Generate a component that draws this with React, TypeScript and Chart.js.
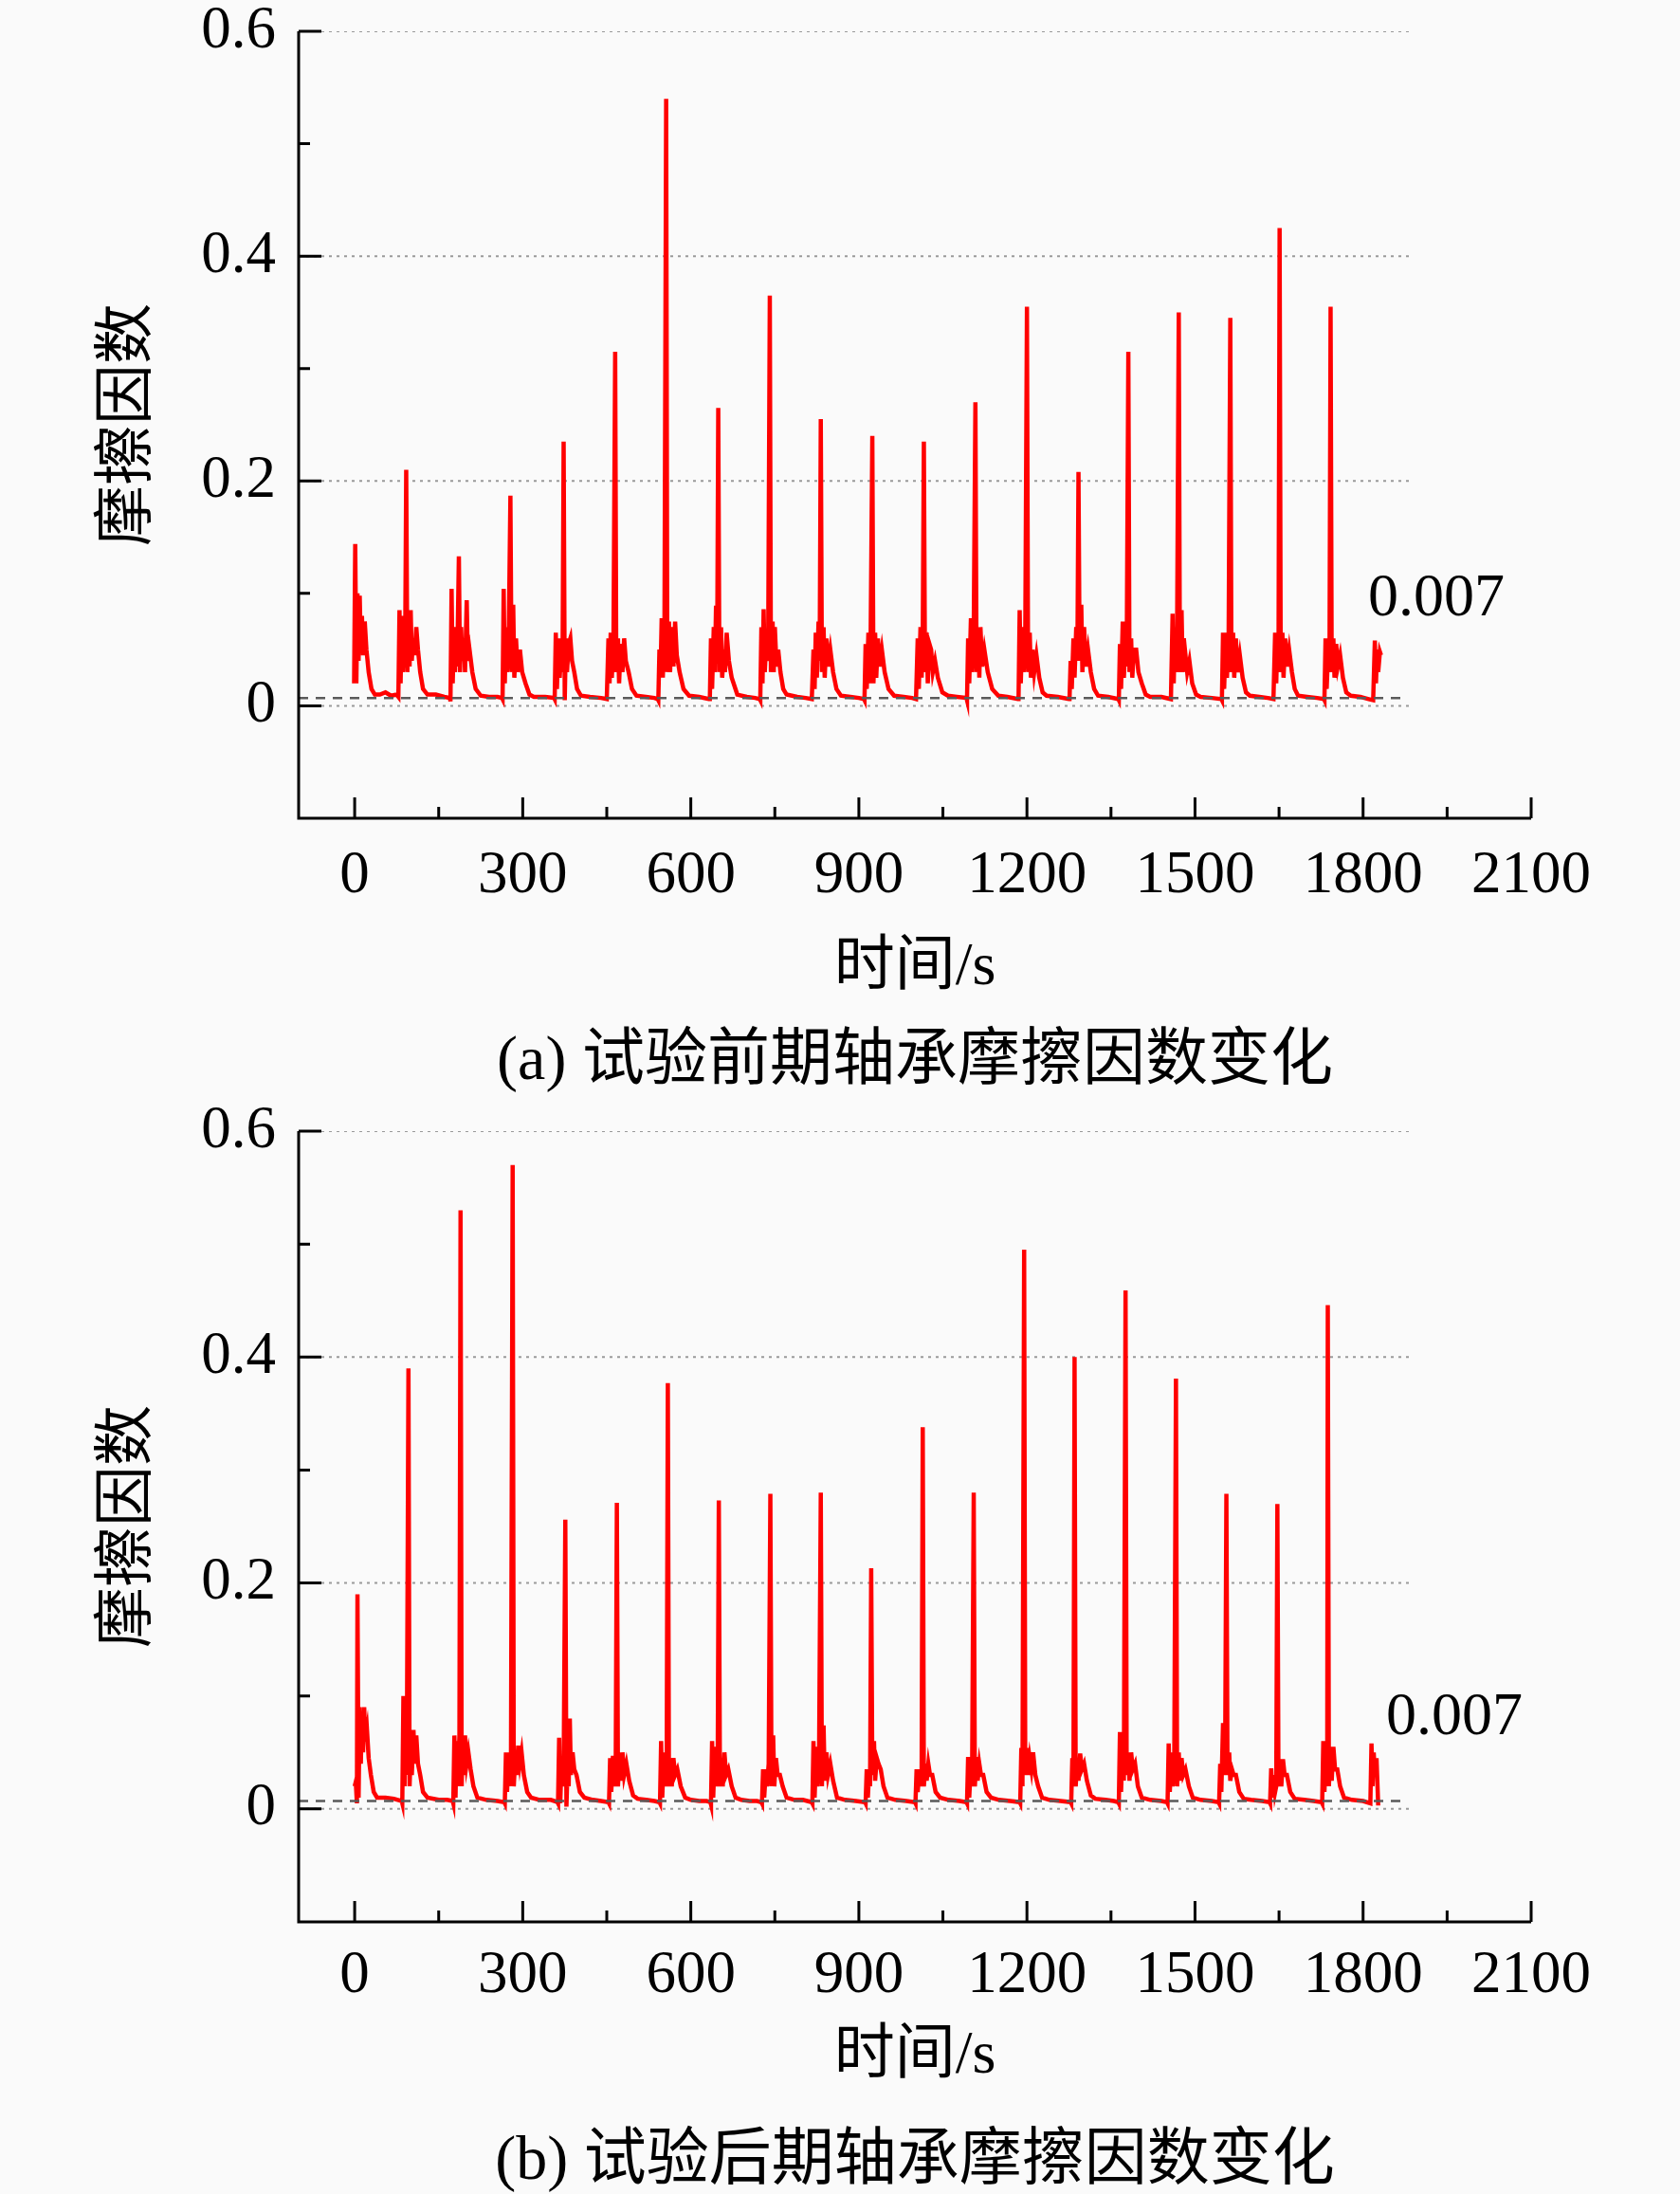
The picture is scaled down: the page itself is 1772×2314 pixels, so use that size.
import React, { useEffect, useRef } from 'react';
import { Chart, registerables } from 'chart.js';

Chart.register(...registerables);

// time [s], friction coefficient — one row per run-in burst
const earlyBursts: [number, number][][] = [
  [[-1, 0.02], [1, 0.144], [3, 0.02], [5, 0.1], [7, 0.04], [9, 0.098], [11, 0.05], [13, 0.08], [15, 0.045], [18, 0.075], [21, 0.05], [25, 0.03], [30, 0.015], [36, 0.01], [45, 0.01], [55, 0.012], [65, 0.009], [75, 0.01]],
  [[78, 0.008], [80, 0.085], [82, 0.02], [84, 0.08], [86, 0.03], [88, 0.06], [90, 0.04], [92, 0.21], [94, 0.03], [96, 0.075], [98, 0.035], [100, 0.085], [102, 0.04], [104, 0.06], [107, 0.045], [110, 0.07], [113, 0.05], [117, 0.03], [122, 0.015], [130, 0.01], [145, 0.01], [160, 0.008], [170, 0.007]],
  [[171, 0.004], [173, 0.104], [175, 0.02], [177, 0.06], [179, 0.03], [181, 0.07], [183, 0.035], [186, 0.133], [188, 0.03], [190, 0.07], [192, 0.04], [195, 0.06], [197, 0.03], [200, 0.094], [202, 0.04], [205, 0.05], [210, 0.03], [216, 0.015], [225, 0.009], [240, 0.008], [255, 0.008], [263, 0.007]],
  [[264, 0.006], [266, 0.104], [268, 0.02], [270, 0.07], [272, 0.03], [275, 0.06], [278, 0.187], [280, 0.03], [283, 0.09], [285, 0.025], [288, 0.06], [291, 0.03], [295, 0.05], [299, 0.03], [305, 0.02], [312, 0.01], [320, 0.008], [340, 0.008], [356, 0.007]],
  [[357, 0.006], [359, 0.065], [361, 0.015], [364, 0.06], [366, 0.025], [369, 0.055], [371, 0.03], [373, 0.235], [375, 0.005], [377, 0.06], [379, 0.03], [382, 0.055], [385, 0.06], [388, 0.04], [392, 0.03], [397, 0.015], [404, 0.009], [420, 0.008], [440, 0.007], [450, 0.006]],
  [[451, 0.006], [453, 0.06], [455, 0.02], [457, 0.065], [459, 0.025], [462, 0.06], [465, 0.315], [467, 0.03], [470, 0.06], [472, 0.02], [475, 0.055], [478, 0.03], [481, 0.06], [484, 0.04], [489, 0.03], [495, 0.015], [503, 0.009], [520, 0.008], [535, 0.007], [541, 0.006]],
  [[542, 0.005], [544, 0.05], [546, 0.03], [548, 0.078], [550, 0.025], [553, 0.07], [556, 0.54], [558, 0.03], [561, 0.075], [563, 0.03], [566, 0.07], [569, 0.035], [572, 0.075], [575, 0.045], [580, 0.03], [587, 0.015], [597, 0.009], [615, 0.008], [632, 0.006]],
  [[634, 0.006], [636, 0.06], [638, 0.015], [641, 0.07], [643, 0.03], [645, 0.089], [647, 0.04], [649, 0.265], [651, 0.03], [654, 0.07], [656, 0.025], [659, 0.05], [661, 0.03], [664, 0.065], [668, 0.04], [673, 0.025], [683, 0.01], [700, 0.008], [715, 0.007], [723, 0.006]],
  [[724, 0.005], [726, 0.07], [728, 0.02], [730, 0.086], [732, 0.03], [735, 0.06], [738, 0.04], [741, 0.365], [743, 0.03], [746, 0.075], [748, 0.03], [750, 0.07], [753, 0.035], [756, 0.05], [760, 0.03], [765, 0.015], [771, 0.01], [790, 0.008], [805, 0.007], [816, 0.006]],
  [[817, 0.006], [819, 0.05], [821, 0.015], [823, 0.065], [825, 0.025], [828, 0.075], [830, 0.04], [832, 0.255], [834, 0.03], [837, 0.07], [839, 0.025], [842, 0.06], [845, 0.035], [849, 0.05], [854, 0.03], [860, 0.015], [868, 0.009], [885, 0.008], [900, 0.007], [909, 0.006]],
  [[910, 0.005], [912, 0.055], [914, 0.015], [917, 0.065], [919, 0.02], [921, 0.06], [924, 0.24], [926, 0.02], [929, 0.065], [931, 0.025], [934, 0.06], [937, 0.035], [941, 0.05], [946, 0.03], [953, 0.015], [963, 0.009], [980, 0.008], [995, 0.007], [1002, 0.006]],
  [[1003, 0.006], [1005, 0.06], [1007, 0.015], [1010, 0.07], [1012, 0.025], [1014, 0.06], [1016, 0.235], [1018, 0.03], [1021, 0.065], [1023, 0.02], [1026, 0.055], [1029, 0.05], [1032, 0.03], [1036, 0.04], [1041, 0.025], [1049, 0.012], [1059, 0.009], [1075, 0.008], [1092, 0.007]],
  [[1093, 0.005], [1095, 0.06], [1097, 0.02], [1100, 0.078], [1102, 0.03], [1105, 0.065], [1108, 0.27], [1110, 0.03], [1113, 0.07], [1115, 0.025], [1117, 0.07], [1120, 0.035], [1124, 0.05], [1130, 0.03], [1138, 0.015], [1149, 0.009], [1165, 0.008], [1184, 0.006]],
  [[1185, 0.006], [1187, 0.085], [1189, 0.02], [1192, 0.07], [1194, 0.03], [1197, 0.06], [1200, 0.355], [1202, 0.03], [1205, 0.065], [1207, 0.025], [1210, 0.05], [1213, 0.03], [1217, 0.045], [1222, 0.025], [1228, 0.012], [1235, 0.009], [1255, 0.008], [1275, 0.006]],
  [[1276, 0.006], [1278, 0.04], [1280, 0.015], [1283, 0.06], [1285, 0.025], [1288, 0.07], [1290, 0.04], [1292, 0.208], [1294, 0.04], [1297, 0.09], [1299, 0.03], [1302, 0.07], [1305, 0.035], [1309, 0.05], [1314, 0.03], [1320, 0.015], [1327, 0.009], [1345, 0.008], [1363, 0.006]],
  [[1364, 0.005], [1366, 0.055], [1368, 0.015], [1371, 0.075], [1373, 0.025], [1376, 0.06], [1378, 0.035], [1381, 0.315], [1383, 0.03], [1386, 0.06], [1388, 0.025], [1391, 0.05], [1395, 0.05], [1399, 0.03], [1405, 0.02], [1412, 0.01], [1420, 0.008], [1440, 0.008], [1457, 0.006]],
  [[1458, 0.006], [1460, 0.082], [1462, 0.02], [1464, 0.07], [1466, 0.03], [1468, 0.06], [1471, 0.35], [1473, 0.03], [1476, 0.085], [1478, 0.03], [1480, 0.06], [1482, 0.05], [1486, 0.03], [1490, 0.04], [1495, 0.02], [1502, 0.01], [1510, 0.008], [1530, 0.007], [1547, 0.006]],
  [[1548, 0.005], [1550, 0.065], [1552, 0.015], [1555, 0.065], [1557, 0.025], [1560, 0.06], [1563, 0.345], [1565, 0.03], [1568, 0.065], [1570, 0.025], [1573, 0.06], [1576, 0.03], [1580, 0.045], [1585, 0.025], [1591, 0.012], [1598, 0.009], [1615, 0.008], [1630, 0.007], [1640, 0.006]],
  [[1641, 0.006], [1643, 0.065], [1645, 0.02], [1647, 0.06], [1649, 0.03], [1651, 0.425], [1653, 0.03], [1656, 0.065], [1658, 0.025], [1661, 0.06], [1664, 0.035], [1668, 0.05], [1673, 0.03], [1678, 0.015], [1684, 0.009], [1700, 0.008], [1718, 0.007], [1730, 0.006]],
  [[1731, 0.005], [1733, 0.06], [1735, 0.015], [1738, 0.055], [1740, 0.03], [1742, 0.355], [1744, 0.03], [1747, 0.06], [1749, 0.025], [1752, 0.055], [1755, 0.035], [1759, 0.045], [1764, 0.025], [1770, 0.012], [1778, 0.009], [1795, 0.008], [1810, 0.006], [1818, 0.005]],
  [[1821, 0.058], [1823, 0.02], [1825, 0.05], [1827, 0.03], [1830, 0.048], [1832, 0.045]],
];

const lateBursts: [number, number][][] = [
  [[0, 0.02], [2, 0.024], [4, 0.005], [5, 0.19], [7, 0.01], [9, 0.09], [11, 0.04], [13, 0.085], [15, 0.05], [17, 0.09], [19, 0.06], [22, 0.07], [25, 0.045], [29, 0.03], [34, 0.015], [40, 0.01], [55, 0.01], [70, 0.009], [84, 0.007]],
  [[85, 0.005], [87, 0.1], [89, 0.02], [91, 0.09], [93, 0.03], [96, 0.39], [98, 0.02], [100, 0.05], [102, 0.03], [105, 0.07], [107, 0.04], [110, 0.065], [113, 0.04], [117, 0.03], [122, 0.015], [130, 0.01], [150, 0.008], [165, 0.008], [175, 0.007]],
  [[176, 0.005], [178, 0.065], [180, 0.01], [182, 0.06], [184, 0.02], [187, 0.065], [189, 0.53], [191, 0.02], [193, 0.065], [195, 0.03], [197, 0.065], [200, 0.04], [203, 0.05], [207, 0.035], [212, 0.02], [219, 0.01], [235, 0.008], [255, 0.007], [267, 0.006]],
  [[268, 0.005], [270, 0.05], [272, 0.015], [275, 0.05], [277, 0.02], [279, 0.045], [282, 0.57], [284, 0.02], [287, 0.05], [289, 0.03], [292, 0.056], [295, 0.04], [298, 0.05], [302, 0.03], [308, 0.015], [315, 0.01], [330, 0.008], [350, 0.008], [362, 0.006]],
  [[363, 0.005], [365, 0.063], [367, 0.005], [369, 0.04], [371, 0.02], [373, 0.03], [376, 0.256], [378, 0.002], [380, 0.035], [382, 0.02], [384, 0.08], [386, 0.03], [389, 0.05], [392, 0.035], [396, 0.03], [402, 0.015], [410, 0.01], [425, 0.008], [440, 0.007], [453, 0.006]],
  [[454, 0.005], [456, 0.045], [458, 0.015], [461, 0.047], [463, 0.02], [466, 0.04], [468, 0.271], [470, 0.02], [473, 0.05], [475, 0.025], [478, 0.05], [481, 0.03], [485, 0.04], [490, 0.025], [497, 0.012], [505, 0.009], [520, 0.008], [535, 0.007], [544, 0.006]],
  [[545, 0.005], [547, 0.06], [549, 0.01], [552, 0.05], [554, 0.02], [557, 0.045], [559, 0.377], [561, 0.02], [564, 0.045], [566, 0.02], [569, 0.045], [572, 0.03], [576, 0.035], [582, 0.02], [590, 0.01], [600, 0.008], [615, 0.007], [628, 0.007], [635, 0.006]],
  [[636, 0.004], [638, 0.06], [640, 0.01], [643, 0.055], [645, 0.02], [648, 0.04], [650, 0.273], [652, 0.02], [655, 0.045], [657, 0.02], [660, 0.05], [663, 0.03], [667, 0.035], [673, 0.02], [680, 0.01], [690, 0.008], [705, 0.007], [718, 0.007], [726, 0.006]],
  [[727, 0.005], [729, 0.035], [731, 0.01], [734, 0.035], [736, 0.02], [739, 0.04], [742, 0.279], [744, 0.02], [747, 0.065], [749, 0.02], [752, 0.045], [755, 0.03], [759, 0.03], [764, 0.02], [771, 0.01], [785, 0.008], [800, 0.008], [816, 0.006]],
  [[817, 0.005], [819, 0.06], [821, 0.01], [824, 0.055], [826, 0.02], [829, 0.05], [832, 0.28], [834, 0.02], [837, 0.074], [839, 0.025], [842, 0.05], [845, 0.03], [849, 0.04], [854, 0.025], [861, 0.01], [875, 0.008], [895, 0.007], [911, 0.006]],
  [[912, 0.005], [914, 0.035], [916, 0.01], [918, 0.03], [920, 0.02], [922, 0.213], [924, 0.03], [927, 0.06], [929, 0.025], [932, 0.045], [935, 0.04], [939, 0.035], [944, 0.02], [951, 0.01], [965, 0.008], [985, 0.007], [1000, 0.006]],
  [[1001, 0.005], [1003, 0.035], [1005, 0.015], [1008, 0.035], [1010, 0.02], [1012, 0.03], [1014, 0.338], [1016, 0.02], [1019, 0.04], [1021, 0.025], [1024, 0.04], [1027, 0.03], [1031, 0.03], [1037, 0.015], [1045, 0.01], [1060, 0.008], [1080, 0.007], [1092, 0.006]],
  [[1093, 0.005], [1095, 0.046], [1097, 0.01], [1100, 0.04], [1102, 0.02], [1105, 0.28], [1107, 0.02], [1110, 0.046], [1112, 0.025], [1115, 0.04], [1118, 0.03], [1122, 0.03], [1128, 0.015], [1136, 0.01], [1150, 0.008], [1170, 0.007], [1187, 0.006]],
  [[1188, 0.005], [1190, 0.054], [1192, 0.02], [1195, 0.495], [1197, 0.03], [1200, 0.054], [1202, 0.03], [1205, 0.045], [1208, 0.035], [1211, 0.05], [1215, 0.03], [1220, 0.02], [1227, 0.01], [1240, 0.008], [1260, 0.007], [1278, 0.006]],
  [[1279, 0.005], [1281, 0.045], [1283, 0.02], [1285, 0.4], [1287, 0.02], [1290, 0.045], [1292, 0.025], [1295, 0.049], [1298, 0.035], [1302, 0.04], [1307, 0.025], [1314, 0.012], [1322, 0.009], [1340, 0.008], [1355, 0.007], [1363, 0.006]],
  [[1364, 0.005], [1366, 0.068], [1368, 0.015], [1371, 0.06], [1373, 0.025], [1376, 0.459], [1378, 0.03], [1381, 0.05], [1383, 0.025], [1386, 0.05], [1389, 0.035], [1393, 0.04], [1398, 0.02], [1405, 0.01], [1420, 0.008], [1440, 0.007], [1450, 0.006]],
  [[1451, 0.005], [1453, 0.058], [1455, 0.015], [1458, 0.05], [1460, 0.02], [1463, 0.045], [1466, 0.381], [1468, 0.02], [1471, 0.05], [1473, 0.025], [1476, 0.045], [1479, 0.03], [1483, 0.035], [1489, 0.02], [1496, 0.01], [1510, 0.008], [1530, 0.007], [1542, 0.006]],
  [[1543, 0.005], [1545, 0.04], [1547, 0.015], [1550, 0.076], [1552, 0.03], [1554, 0.07], [1556, 0.279], [1558, 0.03], [1561, 0.05], [1563, 0.025], [1566, 0.035], [1569, 0.03], [1573, 0.03], [1579, 0.015], [1587, 0.009], [1600, 0.008], [1620, 0.007], [1633, 0.006]],
  [[1634, 0.005], [1636, 0.036], [1638, 0.01], [1641, 0.03], [1643, 0.015], [1645, 0.02], [1647, 0.27], [1649, 0.02], [1652, 0.044], [1654, 0.02], [1657, 0.044], [1660, 0.03], [1664, 0.03], [1670, 0.015], [1678, 0.009], [1695, 0.008], [1712, 0.007], [1726, 0.006]],
  [[1727, 0.005], [1729, 0.06], [1731, 0.015], [1734, 0.055], [1736, 0.03], [1737, 0.446], [1739, 0.02], [1742, 0.055], [1744, 0.025], [1747, 0.055], [1750, 0.035], [1754, 0.035], [1759, 0.02], [1766, 0.01], [1780, 0.008], [1800, 0.007], [1813, 0.005]],
  [[1815, 0.058], [1817, 0.02], [1819, 0.05], [1821, 0.03], [1824, 0.045], [1827, 0.003]],
];

const xLabelTicks = [0, 300, 600, 900, 1200, 1500, 1800, 2100];
const xMinorTicks = [150, 450, 750, 1050, 1350, 1650, 1950];
const yLabelTicks = [0, 0.2, 0.4, 0.6];
const yMinorTicks = [0.1, 0.3, 0.5];
const gridLevels = [0, 0.2, 0.4, 0.6];
const refLevel = 0.007;
const refText = '0.007';

const SERIF = "'Liberation Serif', 'Times New Roman', serif";
const CJK = "'Liberation Serif', 'Noto Sans CJK SC', sans-serif";

interface PanelLayout {
  height: number;
  top: number;
  bottom: number;
  xAxisHeight: number;
  tickPad: number;
  xTitlePad: number;
  noteX: number;
  noteY: number;
}

const axisDecor = {
  id: 'axisDecor',
  afterDraw(chart: any, _args: any, opts: any) {
    const { ctx, chartArea } = chart;
    const xs = chart.scales.x;
    const ys = chart.scales.y;
    ctx.save();
    ctx.strokeStyle = '#000';
    ctx.lineWidth = 3;
    ctx.beginPath();
    ctx.moveTo(chartArea.left, chartArea.top);
    ctx.lineTo(chartArea.left, chartArea.bottom);
    ctx.lineTo(chartArea.right, chartArea.bottom);
    yLabelTicks.forEach((v) => {
      const py = ys.getPixelForValue(v);
      ctx.moveTo(chartArea.left, py);
      ctx.lineTo(chartArea.left + 24, py);
    });
    yMinorTicks.forEach((v) => {
      const py = ys.getPixelForValue(v);
      ctx.moveTo(chartArea.left, py);
      ctx.lineTo(chartArea.left + 12, py);
    });
    xLabelTicks.forEach((v) => {
      const px = xs.getPixelForValue(v);
      ctx.moveTo(px, chartArea.bottom);
      ctx.lineTo(px, chartArea.bottom - 22);
    });
    xMinorTicks.forEach((v) => {
      const px = xs.getPixelForValue(v);
      ctx.moveTo(px, chartArea.bottom);
      ctx.lineTo(px, chartArea.bottom - 12);
    });
    ctx.stroke();

    ctx.fillStyle = '#000';
    ctx.font = `64px ${SERIF}`;
    ctx.textAlign = 'left';
    ctx.textBaseline = 'middle';
    ctx.fillText(refText, xs.getPixelForValue(opts.x), ys.getPixelForValue(opts.y));
    ctx.restore();
  },
};

const FrictionPanel: React.FC<{ bursts: [number, number][][]; caption: string; layout: PanelLayout }> = ({
  bursts,
  caption,
  layout,
}) => {
  const canvasRef = useRef<HTMLCanvasElement>(null);
  const chartRef = useRef<Chart>();

  useEffect(() => {
    if (!canvasRef.current) return;
    if (chartRef.current) chartRef.current.destroy();

    const points = bursts.flat().map(([x, y]) => ({ x, y }));
    const grids = gridLevels.map((v) => ({
      data: [
        { x: -100, y: v },
        { x: 1890, y: v },
      ],
      borderColor: '#9a9a9a',
      borderWidth: 2,
      borderDash: [3, 5],
      pointRadius: 0,
    }));

    chartRef.current = new Chart(canvasRef.current, {
      type: 'line',
      data: {
        datasets: [
          {
            data: [
              { x: -100, y: refLevel },
              { x: 1880, y: refLevel },
            ],
            borderColor: '#5a5a5a',
            borderWidth: 2.5,
            borderDash: [10, 8],
            pointRadius: 0,
          },
          {
            data: points,
            borderColor: '#ff0000',
            borderWidth: 4.5,
            pointRadius: 0,
            tension: 0,
            borderJoinStyle: 'miter',
          },
          ...grids,
        ],
      },
      options: {
        animation: false,
        responsive: false,
        devicePixelRatio: 1,
        layout: { padding: { top: layout.top, left: 0, right: 157, bottom: layout.bottom } },
        scales: {
          x: {
            type: 'linear',
            min: -100,
            max: 2100,
            grid: { display: false, drawTicks: false },
            border: { display: false },
            afterBuildTicks: (s: any) => {
              s.ticks = xLabelTicks.map((value) => ({ value }));
            },
            afterFit: (s: any) => {
              s.height = layout.xAxisHeight;
              s.paddingLeft = 0;
              s.paddingRight = 0;
            },
            ticks: {
              color: '#000',
              padding: layout.tickPad,
              maxRotation: 0,
              autoSkip: false,
              font: { family: SERIF, size: 63, lineHeight: 1 },
              callback: (v: any) => String(v),
            },
            title: {
              display: true,
              text: '时间/s',
              color: '#000',
              padding: { top: 0, bottom: layout.xTitlePad },
              font: { family: CJK, size: 64, lineHeight: 1.2 },
            },
          },
          y: {
            type: 'linear',
            min: -0.1,
            max: 0.6,
            grid: { display: false, drawTicks: false },
            border: { display: false },
            afterBuildTicks: (s: any) => {
              s.ticks = yLabelTicks.map((value) => ({ value }));
            },
            afterFit: (s: any) => {
              s.width = 315;
              s.paddingTop = 0;
              s.paddingBottom = 0;
            },
            ticks: {
              color: '#000',
              padding: 24,
              autoSkip: false,
              font: { family: SERIF, size: 63, lineHeight: 1 },
              callback: (v: any) => (Number(v) === 0 ? '0' : Number(v).toFixed(1)),
            },
            title: {
              display: true,
              text: '摩擦因数',
              color: '#000',
              padding: { top: 98, bottom: 0 },
              font: { family: CJK, size: 64, lineHeight: 1.2 },
            },
          },
        },
        plugins: {
          legend: { display: false },
          tooltip: { enabled: false },
          title: {
            display: true,
            position: 'bottom',
            fullSize: false,
            text: caption,
            color: '#000',
            padding: 0,
            font: { family: CJK, size: 66, lineHeight: 1, weight: 'normal' },
          },
          axisDecor: { x: layout.noteX, y: layout.noteY },
        } as any,
      },
      plugins: [axisDecor],
    });

    return () => {
      if (chartRef.current) {
        chartRef.current.destroy();
        chartRef.current = undefined;
      }
    };
  }, [bursts, caption, layout]);

  return <canvas ref={canvasRef} width={1772} height={layout.height} style={{ display: 'block' }} />;
};

const earlyLayout: PanelLayout = {
  height: 1157,
  top: 33,
  bottom: 3,
  xAxisHeight: 225,
  tickPad: 30,
  xTitlePad: 28,
  noteX: 1809,
  noteY: 0.095,
};

const lateLayout: PanelLayout = {
  height: 1157,
  top: 36,
  bottom: 0,
  xAxisHeight: 221,
  tickPad: 26,
  xTitlePad: 40,
  noteX: 1841,
  noteY: 0.08,
};

export default function App() {
  useEffect(() => {
    document.body.style.margin = '0';
    document.body.style.background = '#fafafa';
  }, []);

  return (
    <div style={{ width: 1772, background: '#fafafa' }}>
      <FrictionPanel bursts={earlyBursts} caption="(a) 试验前期轴承摩擦因数变化" layout={earlyLayout} />
      <FrictionPanel bursts={lateBursts} caption="(b) 试验后期轴承摩擦因数变化" layout={lateLayout} />
    </div>
  );
}
